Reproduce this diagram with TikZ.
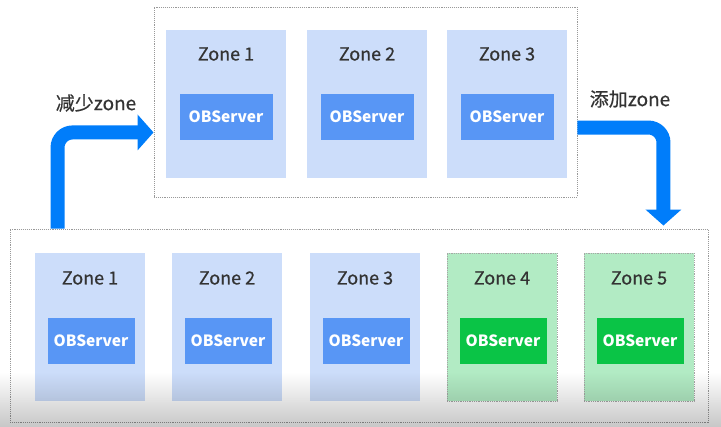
\documentclass[tikz,border=0pt]{standalone}
\usepackage{fontspec}
\setmainfont{Noto Sans CJK SC}
\newfontfamily\midfont[FakeBold=0.6]{Noto Sans CJK SC}
\usepackage{xcolor}
\usetikzlibrary{arrows.meta,positioning,calc,fadings}

\definecolor{zoneblue}{HTML}{CCDDFA}
\definecolor{srvblue}{HTML}{5896F5}
\definecolor{zonegreen}{HTML}{B2EBC4}
\definecolor{srvgreen}{HTML}{0AC446}
\definecolor{flowblue}{HTML}{007DFA}
\definecolor{txtdark}{HTML}{333333}

\tikzfading[name=fadeup, top color=transparent!100, bottom color=transparent!0]

\tikzset{
  cluster/.style={draw=black!40, densely dotted, line width=0.9pt, fill=white, inner sep=0pt},
  zonebox/.style={fill=zoneblue, inner sep=0pt, minimum height=148pt},
  newzone/.style={zonebox, fill=zonegreen, draw=black!35, densely dotted, line width=0.8pt},
  zonetitle/.style={text=txtdark, font=\midfont\fontsize{18}{21}\selectfont},
  server/.style={fill=srvblue, text=white, inner sep=0pt, minimum height=46pt,
    font=\bfseries\fontsize{15.5}{18}\selectfont},
  newserver/.style={server, fill=srvgreen},
  flow/.style={draw=flowblue, line width=14pt, rounded corners=15pt,
    -{Triangle[width=35pt,length=16pt]}},
  flowlabel/.style={text=txtdark, font=\midfont\fontsize{19}{22}\selectfont}
}

\begin{document}
\begin{tikzpicture}[x=1pt,y=1pt]
                    \useasboundingbox (0,0) rectangle (721,-427);

                    % clusters
                    \node[cluster, minimum width=423pt, minimum height=190pt] (top) at (365.5,-102) {};
                    \node[cluster, minimum width=698pt, minimum height=193pt] (bot) at (359,-325.5) {};

                    % zones, upper cluster
                    \node[zonebox, minimum width=120pt] (tz1) at (226,-104) {};
                    \node[zonebox, minimum width=120pt] (tz2) at (367,-104) {};
                    \node[zonebox, minimum width=120pt] (tz3) at (507,-104) {};
                    \node[zonetitle] (tz1t) at (226,-54) {Zone 1};
                    \node[zonetitle] (tz2t) at (367,-54) {Zone 2};
                    \node[zonetitle] (tz3t) at (507,-54) {Zone 3};
                    \node[server, minimum width=93pt] (ts1) at (226,-117) {OBServer};
                    \node[server, minimum width=93pt] (ts2) at (367,-117) {OBServer};
                    \node[server, minimum width=93pt] (ts3) at (507,-117) {OBServer};

                    % zones, lower cluster
                    \node[zonebox, minimum width=110pt] (bz1) at (90,-327) {};
                    \node[zonebox, minimum width=110pt] (bz2) at (227,-327) {};
                    \node[zonebox, minimum width=110pt] (bz3) at (365,-327) {};
                    \node[newzone, minimum width=110pt] (bz4) at (502,-327) {};
                    \node[newzone, minimum width=110pt] (bz5) at (639,-327) {};
                    \node[zonetitle] (bz1t) at (90,-278) {Zone 1};
                    \node[zonetitle] (bz2t) at (227,-278) {Zone 2};
                    \node[zonetitle] (bz3t) at (365,-278) {Zone 3};
                    \node[zonetitle] (bz4t) at (502,-278) {Zone 4};
                    \node[zonetitle] (bz5t) at (639,-278) {Zone 5};
                    \node[server, minimum width=87pt] (bs1) at (91,-341) {OBServer};
                    \node[server, minimum width=87pt] (bs2) at (228,-341) {OBServer};
                    \node[server, minimum width=87pt] (bs3) at (366,-341) {OBServer};
                    \node[newserver, minimum width=87pt] (bs4) at (503,-341) {OBServer};
                    \node[newserver, minimum width=87pt] (bs5) at (640,-341) {OBServer};

                    % flows
                    \draw[flow] ($(bot.north west)+(48,0)$) |- ($(top.south west)+(0,65)$);
                    \draw[flow] ($(top.north east)+(0,-121)$) -| ($(bot.north east)+(-45,3)$);
                    \node[flowlabel] (shrink) at (96,-103) {减少zone};
                    \node[flowlabel] (grow) at (630,-99) {添加zone};

                    % dimmed lower edge
                    \fill[black, path fading=fadeup, opacity=0.22] (0,-372) rectangle (721,-427);
                \end{tikzpicture}
\end{document}
